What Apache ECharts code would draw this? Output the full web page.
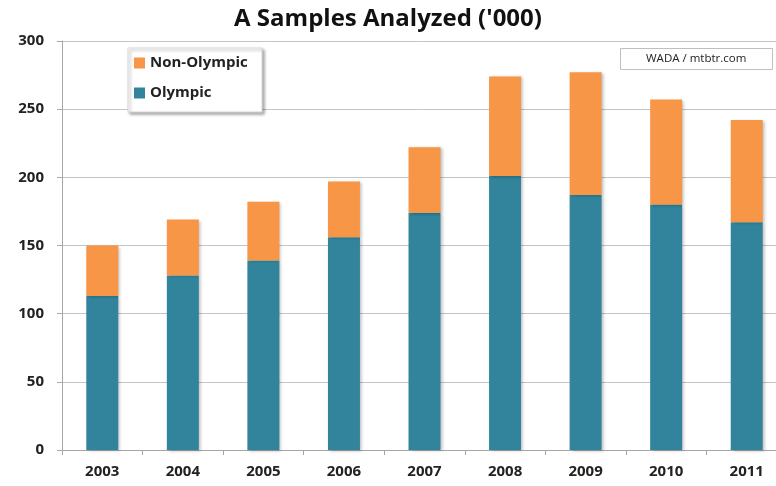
<!DOCTYPE html>
<html><head><meta charset="utf-8">
<script src="https://cdn.jsdelivr.net/npm/echarts@6/dist/echarts.min.js"></script>
<style>html,body{margin:0;padding:0;background:#fff}#c{width:776px;height:486px}</style>
</head><body><div id="c"></div>
<script>
const years = ['2003','2004','2005','2006','2007','2008','2009','2010','2011'];
const olympic = [113,128,139,156,174,201,187,180,167];
const nonOlympic = [37,41,43,41,48,73,90,77,75];
const yTicks = [0,50,100,150,200,250,300];

const chart = echarts.init(document.getElementById('c'));
const font = 'Open Sans';
chart.setOption({
  animation:false,
  backgroundColor:'#fff',
  title:[{
    text:"A Samples Analyzed ('000)",
    left:'center', top:2,
    textStyle:{fontFamily:font,fontWeight:'bold',fontSize:24,color:'#111'}
  },{
    text:'WADA / mtbtr.com',
    left:620, top:48,
    padding:[5,26,5,26],
    borderColor:'#BFBFBF', borderWidth:1,
    backgroundColor:'#fff',
    textStyle:{fontFamily:font,fontSize:11.5,fontWeight:'normal',color:'#222'}
  }],
  legend:{
    orient:'vertical', left:128, top:48,
    padding:[6,8,10,6], itemGap:12,
    itemWidth:11, itemHeight:11,
    icon:'rect',
    backgroundColor:'#fff',
    borderColor:'#D9D9D9', borderWidth:1,
    shadowColor:'rgba(0,0,0,0.35)', shadowBlur:3, shadowOffsetX:2, shadowOffsetY:2,
    data:['Non-Olympic','Olympic'],
    textStyle:{fontFamily:font,fontWeight:'bold',fontSize:15,color:'#222',lineHeight:18,width:104}
  },
  grid:{left:62, width:725, top:41, bottom:36, containLabel:false, outerBoundsMode:'none'},
  xAxis:{
    type:'category', data:years,
    axisLine:{lineStyle:{color:'#A6A6A6'}},
    axisTick:{show:true,length:5,lineStyle:{color:'#A6A6A6'}},
    axisLabel:{fontFamily:font,fontWeight:'bold',fontSize:15,color:'#222',margin:14}
  },
  yAxis:{
    type:'value', min:0, max:300, interval:50,
    axisLine:{show:true,lineStyle:{color:'#A6A6A6'}},
    axisTick:{show:true,length:5,lineStyle:{color:'#A6A6A6'}},
    splitLine:{lineStyle:{color:'#C4C4C4'}},
    axisLabel:{fontFamily:font,fontWeight:'bold',fontSize:15,color:'#222',margin:18,
      formatter:v=>yTicks.includes(v)?String(v):''}
  },
  series:[{
    name:'Olympic', type:'bar', stack:'s', data:olympic, barWidth:32,
    itemStyle:{color:'#31849B',shadowColor:'rgba(0,0,0,0.25)',shadowBlur:3,shadowOffsetX:2,shadowOffsetY:1}
  },{
    name:'Non-Olympic', type:'bar', stack:'s', data:nonOlympic, barWidth:32,
    itemStyle:{color:'#F79646',shadowColor:'rgba(0,0,0,0.25)',shadowBlur:3,shadowOffsetX:2,shadowOffsetY:1}
  }]
});
</script></body></html>
